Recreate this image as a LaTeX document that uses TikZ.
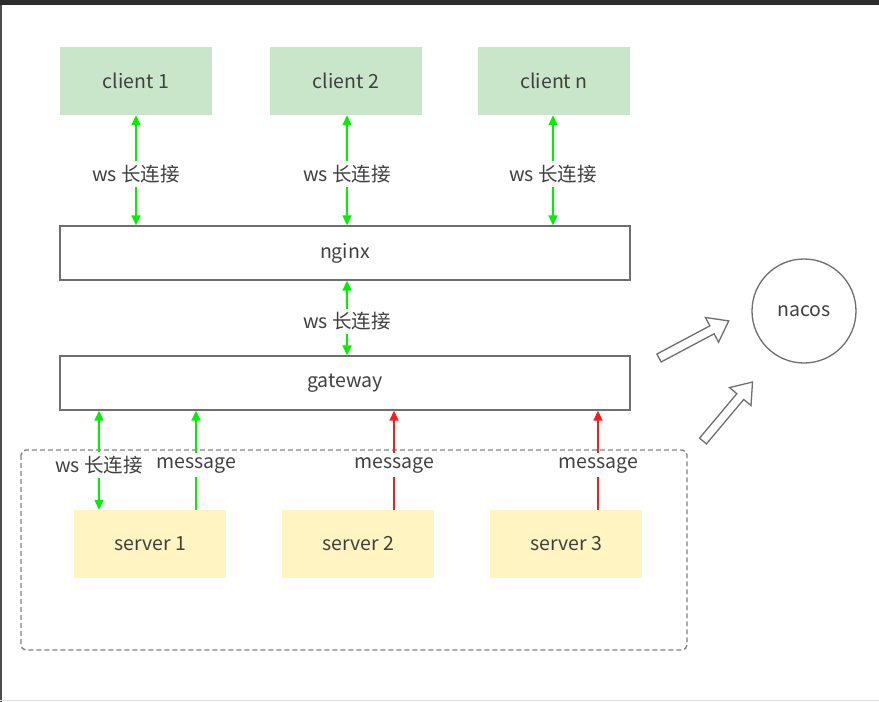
\documentclass[tikz,border=0pt]{standalone}
\usepackage{fontspec}
\setmainfont{Noto Sans CJK SC}
\usetikzlibrary{arrows.meta}
\definecolor{cgreen}{HTML}{C9E6CB}
\definecolor{cyellow}{HTML}{FFF4C2}
\definecolor{bord}{HTML}{6E6E6E}
\definecolor{txt}{HTML}{404040}
\definecolor{lgreen}{HTML}{00F000}
\definecolor{lred}{HTML}{FF1A1A}
\tikzset{
  every node/.style={font=\fontsize{19.5pt}{22pt}\selectfont, text=txt},
  client/.style={fill=cgreen, draw=none, minimum width=152pt, minimum height=68pt, inner sep=0pt},
  server/.style={fill=cyellow, draw=none, minimum width=152pt, minimum height=68pt, inner sep=0pt},
  bar/.style={fill=white, draw=bord, line width=1.3pt, minimum width=570pt, minimum height=54pt, inner sep=0pt},
  lbl/.style={fill=white, inner xsep=3pt, inner ysep=4pt, yshift=-2pt},
  garrow/.style={lgreen, line width=1.4pt, {Triangle[length=10pt,width=9pt]}-{Triangle[length=10pt,width=9pt]}},
  gup/.style={lgreen, line width=1.4pt, -{Triangle[length=10pt,width=9pt]}},
  rup/.style={lred, line width=1.4pt, -{Triangle[length=10pt,width=9pt]}},
  hollow/.style={draw=bord, fill=white, line width=1.3pt, line join=miter},
}
\begin{document}
\begin{tikzpicture}[x=1pt,y=-1pt]
\useasboundingbox (0,0) rectangle (879,702);
\fill[white] (0,0) rectangle (879,702);
\fill[black!83] (0,0) rectangle (879,5);
\fill[black!70] (0,5) rectangle (2,702);
\draw[black!12, line width=1pt] (0,700.5) -- (879,700.5);

% group box
\draw[bord!85, line width=1.4pt, dash pattern=on 5pt off 3pt, rounded corners=5pt] (21,450) rectangle (687,650);

% nodes
\node[client] (c1) at (136,81) {client 1};
\node[client] (c2) at (346,81) {client 2};
\node[client] (cn) at (554,81) {client n};
\node[bar] (nginx) at (345,253) {nginx};
\node[bar] (gw) at (345,383) {gateway};
\node[server] (s1) at (150,544) {server 1};
\node[server] (s2) at (358,544) {server 2};
\node[server] (s3) at (566,544) {server 3};
\node[circle, draw=bord, line width=1.3pt, minimum size=104pt, inner sep=0pt] (nacos) at (804,311) {\raisebox{-2pt}{nacos}};

% connectors
\draw[garrow] (c1.south -| 136,0) -- (nginx.north -| 136,0) node[lbl, pos=0.52] {ws 长连接};
\draw[garrow] (c2.south -| 347,0) -- (nginx.north -| 347,0) node[lbl, pos=0.52] {ws 长连接};
\draw[garrow] (cn.south -| 553,0) -- (nginx.north -| 553,0) node[lbl, pos=0.52] {ws 长连接};
\draw[garrow] (nginx.south -| 347,0) -- (gw.north -| 347,0) node[lbl, pos=0.52] {ws 长连接};
\draw[garrow] (gw.south -| 99,0) -- (s1.north -| 99,0) node[lbl, pos=0.53] {ws 长连接};
\draw[gup] (s1.north -| 196,0) -- (gw.south -| 196,0) node[lbl, pos=0.47] {message};
\draw[rup] (s2.north -| 394,0) -- (gw.south -| 394,0) node[lbl, pos=0.47] {message};
\draw[rup] (s3.north -| 598,0) -- (gw.south -| 598,0) node[lbl, pos=0.47] {message};

% hollow arrows
\begin{scope}[shift={(659,358)}, rotate=28]
\draw[hollow] (0,-4.5) -- (60,-4.5) -- (60,-14) -- (79,0) -- (60,14) -- (60,4.5) -- (0,4.5) -- cycle;
\end{scope}
\begin{scope}[shift={(703,441)}, rotate=50]
\draw[hollow] (0,-4.5) -- (58,-4.5) -- (58,-14) -- (77,0) -- (58,14) -- (58,4.5) -- (0,4.5) -- cycle;
\end{scope}
\end{tikzpicture}
\end{document}
